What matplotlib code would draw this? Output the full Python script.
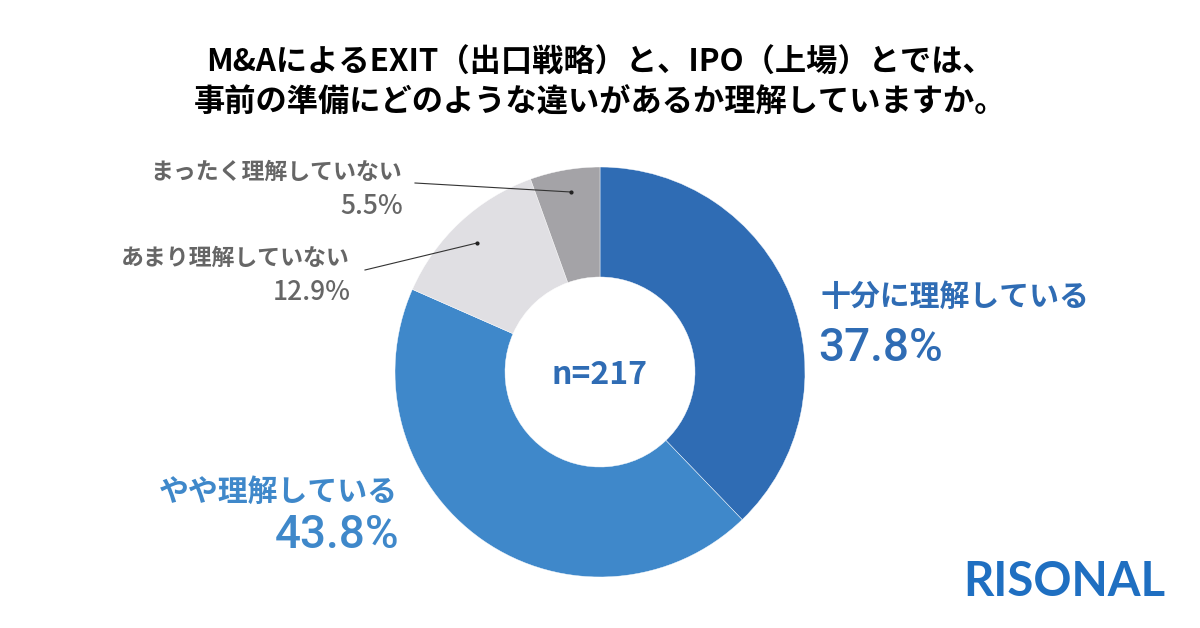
import matplotlib
matplotlib.use("Agg")
import matplotlib.pyplot as plt

plt.rcParams['font.family'] = ['Noto Sans CJK JP', 'DejaVu Sans']

# data
labels = ["十分に理解している", "やや理解している", "あまり理解していない", "まったく理解していない"]
values = [37.8, 43.8, 12.9, 5.5]
colors = ["#2f6cb4", "#3f88ca", "#e0dfe3", "#a4a3a7"]
title = "M&AによるEXIT（出口戦略）と、IPO（上場）とでは、\n事前の準備にどのような違いがあるか理解していますか。"
n_text = "n=217"

W, H = 1200, 628
fig = plt.figure(figsize=(12, 6.28), dpi=100)
ax = fig.add_axes([0, 0, 1, 1])
ax.set_xlim(0, W)
ax.set_ylim(0, H)
ax.set_aspect('equal')
ax.axis('off')

def py(y):
    # pixel row (from top) -> data y
    return H - y

cx, cy = 600, py(372)
R, r = 205, 95
ax.pie(values, colors=colors, startangle=90, counterclock=False,
       center=(cx, cy), radius=R,
       wedgeprops=dict(width=R - r, edgecolor='white', linewidth=0.3))
ax.set_xlim(0, W)
ax.set_ylim(0, H)

ax.text(cx, cy - 3, n_text, ha='center', va='center', fontsize=23,
        fontweight='bold', color="#2f6cb4")

fig.text(0.5, py(83) / H, title, ha='center', va='center', fontsize=22.5,
         fontweight='bold', color='black', linespacing=1.3)

# big labels
pct_font = ['Roboto', 'DejaVu Sans']
ax.text(820, py(297), labels[0], ha='left', va='center', fontsize=21.5,
        fontweight='bold', color=colors[0])
ax.text(818, py(348), f"{values[0]}%", ha='left', va='center', fontsize=33,
        fontweight='medium', family=pct_font, color=colors[0])
ax.text(398, py(492), labels[1], ha='right', va='center', fontsize=21.5,
        fontweight='bold', color=colors[1])
ax.text(399, py(535), f"{values[1]}%", ha='right', va='center', fontsize=33,
        fontweight='medium', family=pct_font, color=colors[1])

# small labels
gray = "#666666"
ax.text(402, py(172), labels[3], ha='right', va='center', fontsize=16.5,
        fontweight='bold', color=gray)
ax.text(403, py(207), f"{values[3]}%", ha='right', va='center', fontsize=19,
        fontweight='medium', color=gray)
ax.text(350, py(258), labels[2], ha='right', va='center', fontsize=16.5,
        fontweight='bold', color=gray)
ax.text(351, py(292), f"{values[2]}%", ha='right', va='center', fontsize=19,
        fontweight='medium', color=gray)

# leader lines
ax.plot([415, 571], [py(183), py(192)], color='#333333', lw=0.8)
ax.plot([571], [py(192)], 'o', color='#222222', ms=2)
ax.plot([365, 477], [py(270), py(243)], color='#333333', lw=0.8)
ax.plot([477], [py(243)], 'o', color='#222222', ms=2)

# logo
ax.text(1165, py(582), "RISONAL", ha='right', va='center', fontsize=34,
        fontweight='bold', family='Lato', color="#1f6fc1")

fig.savefig("out.png", dpi=100, facecolor='white')
